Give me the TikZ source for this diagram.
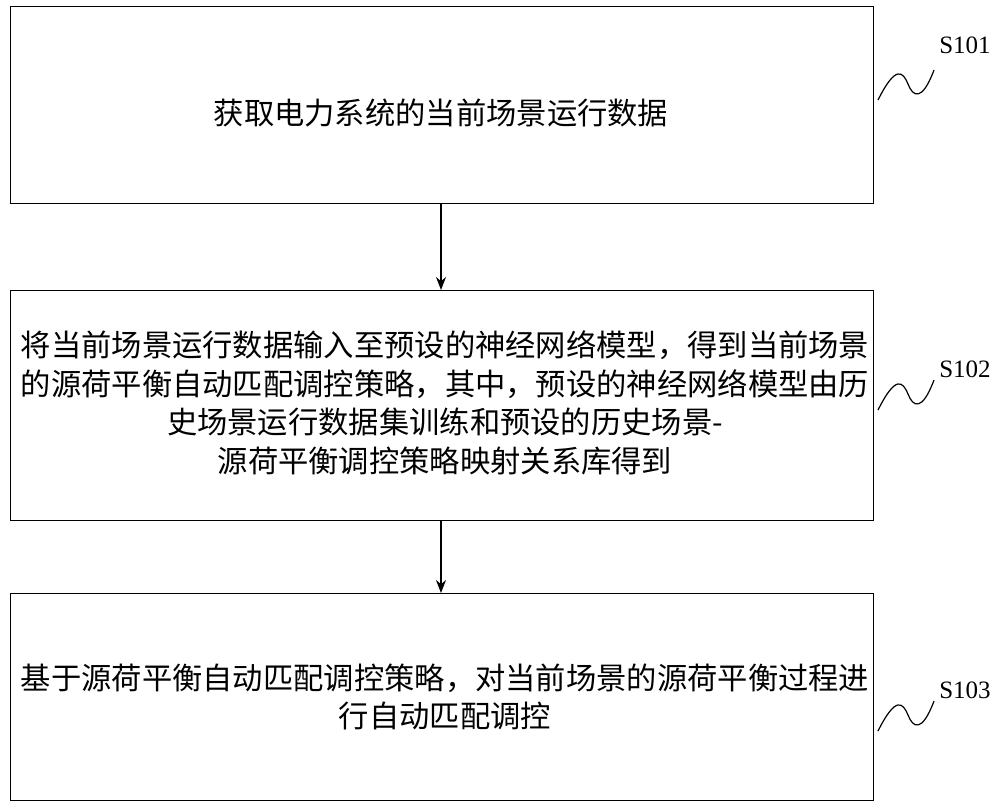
\documentclass[tikz,border=0pt]{standalone}
\usepackage{fontspec}
\setmainfont{Liberation Serif}
\newfontfamily\cjk{Noto Sans CJK SC}
\usetikzlibrary{arrows.meta}
\begin{document}
\begin{tikzpicture}[x=1pt,y=-1pt,
  stepbox/.style={draw,line width=1.3pt,minimum width=863pt,anchor=north west,inner sep=0pt},
  txt/.style={font=\cjk\fontsize{30.3}{38.5}\selectfont,align=center,inner sep=0pt},
  lab/.style={font=\fontsize{25}{28}\selectfont,inner sep=0pt},
  arr/.style={-{Stealth[length=13pt,width=10pt]},line width=1.3pt},
  sq/.style={line width=1.2pt}]
\useasboundingbox (0,0) rectangle (1000,809);
\node[stepbox,minimum height=197pt] (b1) at (10,6) {};
\node[stepbox,minimum height=230pt] (b2) at (10,290) {};
\node[stepbox,minimum height=207pt] (b3) at (10,593) {};
\node[txt] (t1) at (441,113) {获取电力系统的当前场景运行数据};
\node[txt] (t2) at (445,403) {将当前场景运行数据输入至预设的神经网络模型，得到当前场景\\的源荷平衡自动匹配调控策略，其中，预设的神经网络模型由历\\史场景运行数据集训练和预设的历史场景-\\源荷平衡调控策略映射关系库得到};
\node[txt] (t3) at (445,697) {基于源荷平衡自动匹配调控策略，对当前场景的源荷平衡过程进\\行自动匹配调控};
\draw[arr] (b1.south -| 441,0) -- (b2.north -| 441,0);
\draw[arr] (b2.south -| 441,0) -- (b3.north -| 441,0);
\node[lab] (s1) at (965,45) {S101};
\node[lab] (s2) at (965,369) {S102};
\node[lab] (s3) at (965,690) {S103};
\coordinate (a1) at (878,100); \coordinate (e1) at (934,70);
\draw[sq] (a1) .. controls (896,64) and (903,72) .. (908,84) .. controls (913,97) and (922,102) .. (e1);
\coordinate (a2) at (878,410); \coordinate (e2) at (934,380);
\draw[sq] (a2) .. controls (896,374) and (903,382) .. (908,394) .. controls (913,407) and (922,412) .. (e2);
\coordinate (a3) at (878,731); \coordinate (e3) at (934,701);
\draw[sq] (a3) .. controls (896,695) and (903,703) .. (908,715) .. controls (913,728) and (922,733) .. (e3);
\end{tikzpicture}
\end{document}
